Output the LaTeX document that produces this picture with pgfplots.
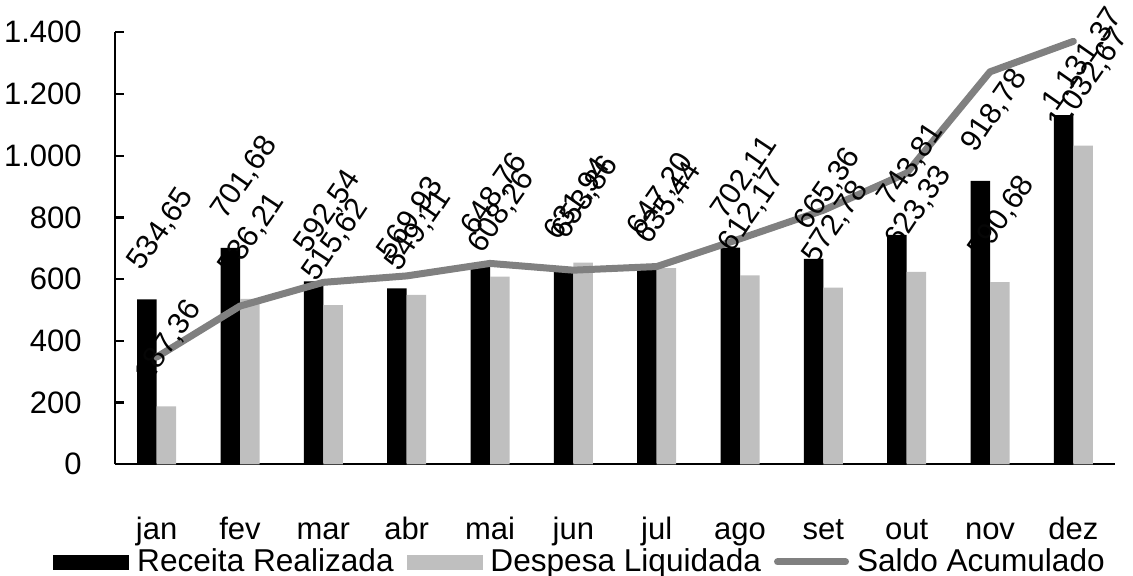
\documentclass[border=0pt]{standalone}
\usepackage{fontspec}
\setmainfont{Liberation Sans}
\usepackage{pgfplots}
\usepackage{pgfplotstable}
\pgfplotsset{compat=1.18}
\definecolor{desp}{HTML}{BFBFBF}
\definecolor{saldo}{HTML}{808080}
\definecolor{lblk}{HTML}{060606}
\newcommand\cf{\fontsize{15.5}{18.6}\selectfont}
\newcommand\gf{\fontsize{15.8}{19}\selectfont}
\newcommand\lfA{\fontsize{15}{18}\selectfont}
\newcommand\lfB{\fontsize{15.3}{18}\selectfont}
\tikzset{
  labA/.style={font=\lfA, text=black, rotate=55},
  labB/.style={font=\lfB, text=lblk, rotate=56.5},
}

% value labels are set one character per node (rotated text); r0..r7 / d0..d7 hold the characters
\pgfplotstableread{
x rec desp saldo big dxr dyr dxd dyd r0 r1 r2 r3 r4 r5 r6 r7 d0 d1 d2 d3 d4 d5 d6 d7
0 534.65 187.36 347.29 0 -7.5 13.5 -3.75 11 5 3 4 , 6 5 {} {} 1 8 7 , 3 6 {} {}
1 701.68 536.21 512.76 0 -7.5 13.5 -3.75 11 7 0 1 , 6 8 {} {} 5 3 6 , 2 1 {} {}
2 592.54 515.62 589.68 0 -7.5 13.5 -3.75 11 5 9 2 , 5 4 {} {} 5 1 5 , 6 2 {} {}
3 569.93 549.11 610.50 0 -7.5 13.5 -3.75 11 5 6 9 , 9 3 {} {} 5 4 9 , 1 1 {} {}
4 648.76 608.26 651.00 0 -7.5 13.5 -3.75 11 6 4 8 , 7 6 {} {} 6 0 8 , 2 6 {} {}
5 631.94 653.86 629.08 0 -7.5 13.5 -3.75 11 6 3 1 , 9 4 {} {} 6 5 3 , 8 6 {} {}
6 647.20 635.44 640.84 0 -7.5 13.5 -3.75 11 6 4 7 , 2 0 {} {} 6 3 5 , 4 4 {} {}
7 702.11 612.17 730.78 0 -7.5 13.5 -3.75 11 7 0 2 , 1 1 {} {} 6 1 2 , 1 7 {} {}
8 665.36 572.78 823.36 0 -7.5 13.5 -3.75 11 6 6 5 , 3 6 {} {} 5 7 2 , 7 8 {} {}
9 743.81 623.33 943.84 0 -7.5 13.5 -3.75 11 7 4 3 , 8 1 {} {} 6 2 3 , 3 3 {} {}
10 918.78 590.68 1271.94 0 -7.5 13.5 -3.75 11 9 1 8 , 7 8 {} {} 5 9 0 , 6 8 {} {}
11 1131.37 1032.67 1370.64 1 -8.5 1.2 -5.75 6.3 1 . 1 3 1 , 3 7 1 . 0 3 2 , 6 7
}\data

\newcommand\labplots[2]{%
\addplot[ybar, bar width=9.75pt, bar shift=-4.875pt, draw=none, fill=none, forget plot,
  point meta=explicit symbolic,
  visualization depends on={\thisrow{dxr} \as \dx},
  visualization depends on={\thisrow{dyr} \as \dy},
  visualization depends on={\thisrow{big} \as \bg},
  nodes near coords,
  nodes near coords style={inner sep=0pt,
    xshift={(\dx+8.604*((1-\bg)*{0,0.556,1.112,1.668,1.946,2.502,0,0}[#1]+\bg*{0,0.556,0.834,1.39,1.946,2.502,2.78,3.336}[#1]))*1pt},
    yshift={(\dy+12.287*((1-\bg)*{0,0.556,1.112,1.668,1.946,2.502,0,0}[#1]+\bg*{0,0.556,0.834,1.39,1.946,2.502,2.78,3.336}[#1]))*1pt},
    #2, anchor=base west}]
  table[x=x, y=rec, meta=r#1]{\data};
\addplot[ybar, bar width=9.75pt, bar shift=4.875pt, draw=none, fill=none, forget plot,
  point meta=explicit symbolic,
  visualization depends on={\thisrow{dxd} \as \dx},
  visualization depends on={\thisrow{dyd} \as \dy},
  visualization depends on={\thisrow{big} \as \bg},
  nodes near coords,
  nodes near coords style={inner sep=0pt,
    xshift={(\dx+8.604*((1-\bg)*{0,0.556,1.112,1.668,1.946,2.502,0,0}[#1]+\bg*{0,0.556,0.834,1.39,1.946,2.502,2.78,3.336}[#1]))*1pt},
    yshift={(\dy+12.287*((1-\bg)*{0,0.556,1.112,1.668,1.946,2.502,0,0}[#1]+\bg*{0,0.556,0.834,1.39,1.946,2.502,2.78,3.336}[#1]))*1pt},
    #2, anchor=base west}]
  table[x=x, y=desp, meta=d#1]{\data};
}

\begin{document}
\begin{tikzpicture}
\begin{axis}[
  name=ax,
  width=500pt, height=216pt, scale only axis,
  xmin=-0.5, xmax=11.5, ymin=0, ymax=1400,
  axis x line*=bottom, axis y line*=left,
  axis line style={line width=1.2pt, black},
  xtick={0,...,11},
  xticklabels={jan,fev,mar,abr,mai,jun,jul,ago,set,out,nov,dez},
  ytick={0,200,...,1400},
  tick align=inside, major tick length=4.5pt,
  x tick style={draw=none},
  y tick style={line width=1.2pt, black},
  tick label style={font=\cf, text=black},
  xticklabel style={anchor=base, yshift=-37.85pt},
  yticklabel style={anchor=east, inner sep=0pt, xshift=-16.5pt},
  /pgf/number format/assume math mode=true,
  /pgf/number format/1000 sep={.},
  /pgf/number format/dec sep={,},
  legend style={at={(-0.062,-0.226)}, anchor=west, legend columns=3,
    draw=none, fill=none, inner sep=0pt, font=\gf,
    /tikz/every odd column/.append style={column sep=2pt},
    /tikz/every even column/.append style={column sep=4.5pt}},
  legend cell align=left,
  clip=false,
]
\addplot[ybar, bar width=9.75pt, bar shift=-4.875pt, fill=black, draw=none, forget plot]
  table[x=x, y=rec]{\data};
\addplot[ybar, bar width=9.75pt, bar shift=4.875pt, fill=desp, draw=none, forget plot]
  table[x=x, y=desp]{\data};
\addplot[saldo, line width=3.5pt, line join=round, line cap=round, mark=none, forget plot]
  table[x=x, y=saldo]{\data};
\labplots{0}{labA}
\labplots{1}{labB}
\labplots{2}{labA}
\labplots{3}{labB}
\labplots{4}{labA}
\labplots{5}{labB}
\labplots{6}{labA}
\labplots{7}{labB}
\addlegendimage{legend image code/.code={\fill[black] (0pt,-3.5pt) rectangle (37.5pt,3.5pt);}}
\addlegendentry{Receita Realizada}
\addlegendimage{legend image code/.code={\fill[desp] (0pt,-3.5pt) rectangle (37.5pt,3.5pt);}}
\addlegendentry{Despesa Liquidada}
\addlegendimage{legend image code/.code={\draw[saldo, line width=3.5pt, line cap=round] (1.75pt,0pt) -- (35.75pt,0pt);}}
\addlegendentry{Saldo Acumulado}
\end{axis}
\pgfresetboundingbox
\path ([xshift=-57.5pt, yshift=-55.85pt]ax.south west) rectangle ([xshift=9pt, yshift=16.15pt]ax.north east);
\end{tikzpicture}
\end{document}
